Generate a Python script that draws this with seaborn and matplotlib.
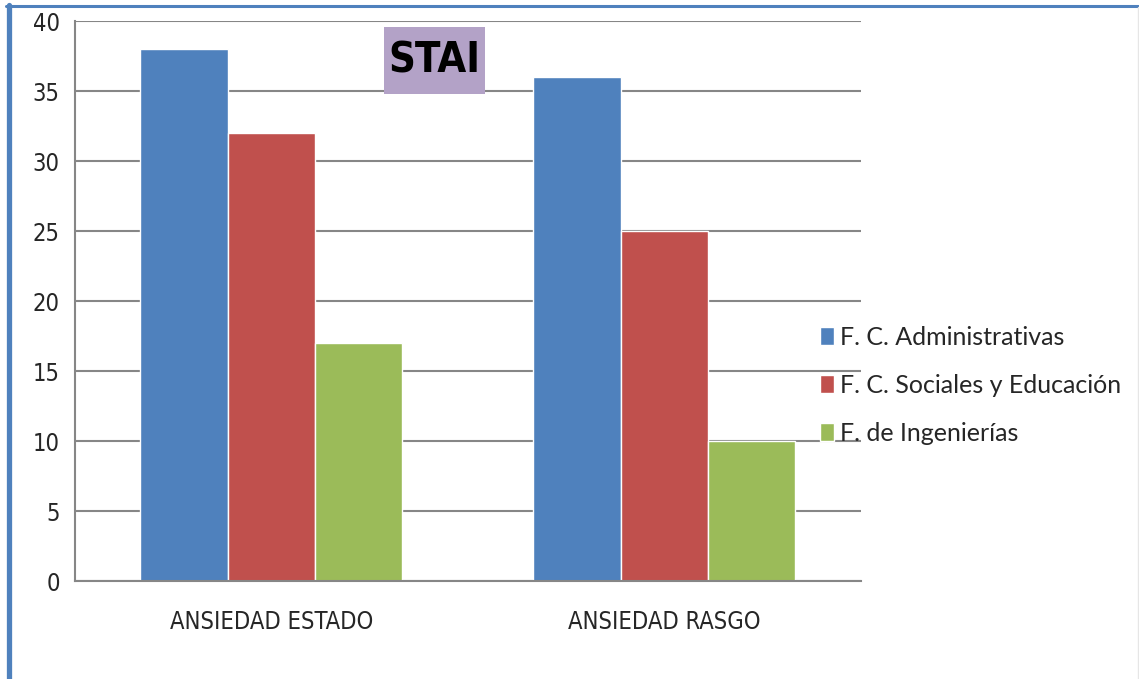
import pandas as pd
import matplotlib.pyplot as plt
import seaborn as sns
from matplotlib.lines import Line2D
from matplotlib.patches import Rectangle
from matplotlib import font_manager

categories = ['ANSIEDAD ESTADO', 'ANSIEDAD RASGO']
groups = ['F. C. Administrativas', 'F. C. Sociales y Educación', 'F. de Ingenierías']
values_admin = [38, 36]
values_social = [32, 25]
values_ing = [17, 10]
colors = ['#4F81BD', '#C0504D', '#9BBB59']

df = pd.DataFrame({
    'cat': categories * 3,
    'grupo': [groups[0]] * 2 + [groups[1]] * 2 + [groups[2]] * 2,
    'valor': values_admin + values_social + values_ing,
})

sns.set_style('white')
names = {f.name for f in font_manager.fontManager.ttflist}
narrow = 'Liberation Sans Narrow' if 'Liberation Sans Narrow' in names else 'DejaVu Sans'
plt.rcParams['font.family'] = [narrow, 'DejaVu Sans']
plt.rcParams['font.stretch'] = 'condensed'

fig = plt.figure(figsize=(11.39, 6.79), dpi=100)
ax = fig.add_axes([0.0658, 0.1443, 0.690, 0.8247])

sns.barplot(data=df, x='cat', y='valor', hue='grupo', palette=colors,
            width=0.667, gap=0, saturation=1, ax=ax, legend=True)

ax.set_ylim(0, 40)
ax.set_xlim(-0.5, 1.5)
ax.set_yticks(range(0, 41, 5))
ax.yaxis.grid(True, color='#868686', linewidth=1.5)
ax.set_axisbelow(True)
ax.set_xlabel('')
ax.set_ylabel('')
for s in ['top', 'right']:
    ax.spines[s].set_visible(False)
for s in ['left', 'bottom']:
    ax.spines[s].set_color('#868686')
    ax.spines[s].set_linewidth(1.5)
ax.tick_params(axis='y', length=8, color='#868686', width=1.5, labelsize=17, pad=3)
ax.tick_params(axis='x', which='major', length=0, labelsize=17, pad=21)
ax.set_xticks([-0.5, 0.5, 1.5], minor=True)
ax.tick_params(axis='x', which='minor', length=8, color='#868686', width=1.5)

leg = ax.legend(loc='center left', bbox_to_anchor=(0.948, 0.35), frameon=False,
                borderaxespad=0, borderpad=0,
                handlelength=0.55, handleheight=0.7, handletextpad=0.25,
                labelspacing=1.0, prop={'family': 'Lato', 'size': 18, 'stretch': 'normal'})

# caja STAI
ax.add_patch(Rectangle((0.393, 0.8696), 0.1285, 0.1196, transform=ax.transAxes,
                       facecolor='#B3A2C7', edgecolor='none', zorder=5))
ax.text(0.393 + 0.1285 / 2, 0.8696 + 0.1196 / 2, 'STAI', transform=ax.transAxes,
        ha='center', va='center', fontsize=30, fontweight='bold', color='black', zorder=6)

# borde del gráfico recortado
fig.add_artist(Line2D([8.5 / 1139, 8.5 / 1139], [0, 1 - 5 / 679], transform=fig.transFigure,
                      color='#4F81BD', linewidth=3.8))
fig.add_artist(Line2D([6 / 1139, 1138 / 1139], [1 - 6 / 679, 1 - 6 / 679], transform=fig.transFigure,
                      color='#4F81BD', linewidth=2.2))
fig.add_artist(Line2D([1138 / 1139, 1138 / 1139], [0, 1 - 7 / 679], transform=fig.transFigure,
                      color='#E6E6E6', linewidth=1))

fig.savefig('out.png', dpi=100)
